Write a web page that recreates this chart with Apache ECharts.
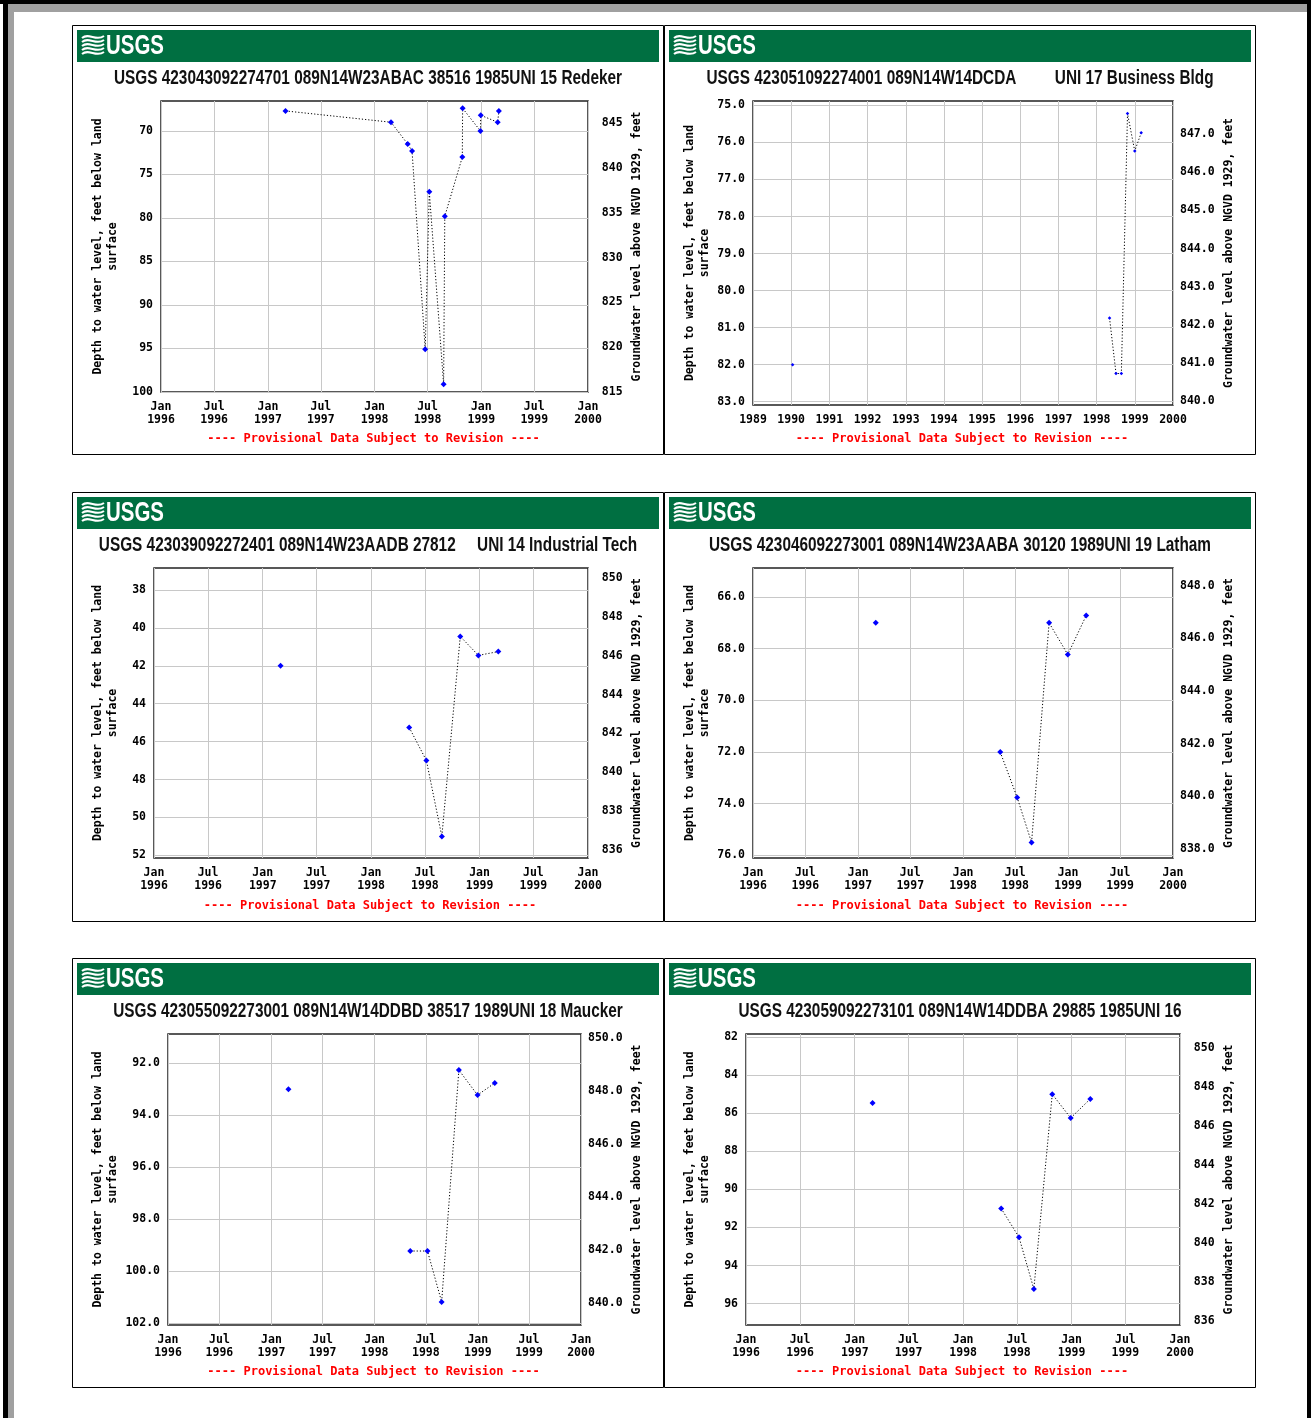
<!DOCTYPE html>
<html>
<head>
<meta charset="utf-8">
<script src="https://cdn.jsdelivr.net/npm/echarts@6/dist/echarts.min.js"></script>
<style>
html,body{margin:0;padding:0;background:#fff;}
#c{width:1311px;height:1418px;}
</style>
</head>
<body>
<div id="c"></div>
<script>
// ---------------- DATA ----------------
const halfYearTicks = ['1996-01-01','1996-07-01','1997-01-01','1997-07-01','1998-01-01','1998-07-01','1999-01-01','1999-07-01','2000-01-01'];
const halfYearLabels = ['Jan\n1996','Jul\n1996','Jan\n1997','Jul\n1997','Jan\n1998','Jul\n1998','Jan\n1999','Jul\n1999','Jan\n2000'];
const yearTicks = ['1989-01-01','1990-01-01','1991-01-01','1992-01-01','1993-01-01','1994-01-01','1995-01-01','1996-01-01','1997-01-01','1998-01-01','1999-01-01','2000-01-01'];
const yearLabels = ['1989','1990','1991','1992','1993','1994','1995','1996','1997','1998','1999','2000'];

const depthAxisName = 'Depth to water level, feet below land\nsurface';
const elevAxisName = 'Groundwater level above NGVD 1929, feet';
const provisionalText = '---- Provisional Data Subject to Revision ----';
const logoText = 'USGS';

// Panel 1
const p1Title = 'USGS 423043092274701 089N14W23ABAC 38516 1985UNI 15 Redeker';
const p1Dates = ['1997-03-02','1998-02-26','1998-04-24','1998-05-09','1998-06-23','1998-07-07','1998-08-25','1998-08-29','1998-10-28','1998-10-29','1998-12-29','1998-12-30','1999-02-26','1999-03-02'];
const p1Depths = [67.7, 69.0, 71.5, 72.3, 95.1, 77.0, 99.1, 79.8, 73.0, 67.4, 70.0, 68.2, 69.0, 67.7];
const p1Gaps = [];
const p1DepthTicks = [70, 75, 80, 85, 90, 95, 100];
const p1ElevTicks = [815, 820, 825, 830, 835, 840, 845];

// Panel 2
const p2Title = 'USGS 423051092274001 089N14W14DCDA         UNI 17 Business Bldg';
const p2Dates = ['1990-01-15','1998-05-04','1998-07-05','1998-08-25','1998-10-23','1998-12-31','1999-03-03'];
const p2Depths = [82.0, 80.74, 82.24, 82.24, 75.22, 76.23, 75.74];
const p2Gaps = [1];
const p2DepthTicks = [75, 76, 77, 78, 79, 80, 81, 82, 83];
const p2ElevTicks = [840, 841, 842, 843, 844, 845, 846, 847];

// Panel 3
const p3Title = 'USGS 423039092272401 089N14W23AADB 27812     UNI 14 Industrial Tech';
const p3Dates = ['1997-03-02','1998-05-09','1998-07-06','1998-08-27','1998-10-28','1998-12-28','1999-03-05'];
const p3Depths = [42.0, 45.25, 47.0, 51.0, 40.45, 41.45, 41.25];
const p3Gaps = [1];
const p3DepthTicks = [38, 40, 42, 44, 46, 48, 50, 52];
const p3ElevTicks = [836, 838, 840, 842, 844, 846, 848, 850];

// Panel 4
const p4Title = 'USGS 423046092273001 089N14W23AABA 30120 1989UNI 19 Latham';
const p4Dates = ['1997-03-03','1998-05-10','1998-07-08','1998-08-27','1998-10-27','1998-12-31','1999-03-05'];
const p4Depths = [67.0, 72.0, 73.76, 75.5, 67.0, 68.23, 66.72];
const p4Gaps = [1];
const p4DepthTicks = [66, 68, 70, 72, 74, 76];
const p4ElevTicks = [838, 840, 842, 844, 846, 848];

// Panel 5
const p5Title = 'USGS 423055092273001 089N14W14DDBD 38517 1989UNI 18 Maucker';
const p5Dates = ['1997-03-02','1998-05-07','1998-07-07','1998-08-26','1998-10-26','1998-12-31','1999-03-02'];
const p5Depths = [93.0, 99.23, 99.23, 101.19, 92.26, 93.22, 92.76];
const p5Gaps = [1];
const p5DepthTicks = [92, 94, 96, 98, 100, 102];
const p5ElevTicks = [840, 842, 844, 846, 848, 850];

// Panel 6
const p6Title = 'USGS 423059092273101 089N14W14DDBA 29885 1985UNI 16';
const p6Dates = ['1997-03-02','1998-05-09','1998-07-08','1998-08-27','1998-10-28','1998-12-29','1999-03-05'];
const p6Depths = [85.46, 91.0, 92.51, 95.23, 85.0, 86.25, 85.25];
const p6Gaps = [1];
const p6DepthTicks = [82, 84, 86, 88, 90, 92, 94, 96];
const p6ElevTicks = [836, 838, 840, 842, 844, 846, 848, 850];

// ---------------- LAYOUT / STYLE ----------------
const MONO = '"DejaVu Sans Mono", "Liberation Mono", monospace';
const SANS = '"Liberation Sans", Arial, sans-serif';
const TITLE_FONT = 'bold 20px ' + SANS;
const LOGO_FONT = 'bold 28px ' + SANS;
const ts = s => Date.parse(s + 'T00:00:00Z');

// condensed look: measure the regular bold face and squeeze it horizontally
const mctx = document.createElement('canvas').getContext('2d');
function textWidth(font, text) { mctx.font = font; return mctx.measureText(text).width; }
const titleScale = 508 / textWidth(TITLE_FONT, p1Title);
const logoScale = 58 / textWidth(LOGO_FONT, logoText);

const panels = [
  {title:p1Title, dates:p1Dates, depths:p1Depths, gaps:p1Gaps, xTicks:halfYearTicks, xLabels:halfYearLabels, xMin:'1996-01-01', xMax:'2000-01-01',
   dTicks:p1DepthTicks, eTicks:p1ElevTicks, dRange:[66.56,100], eRange:[815,847.5], dec:0, origin:[72,25], grid:[161,101,427,291], sym:6},
  {title:p2Title, dates:p2Dates, depths:p2Depths, gaps:p2Gaps, xTicks:yearTicks, xLabels:yearLabels, xMin:'1989-01-01', xMax:'2000-01-01',
   dTicks:p2DepthTicks, eTicks:p2ElevTicks, dRange:[74.88,83.09], eRange:[839.9,847.87], dec:1, origin:[664,25], grid:[753,101,420,304], sym:3.5},
  {title:p3Title, dates:p3Dates, depths:p3Depths, gaps:p3Gaps, xTicks:halfYearTicks, xLabels:halfYearLabels, xMin:'1996-01-01', xMax:'2000-01-01',
   dTicks:p3DepthTicks, eTicks:p3ElevTicks, dRange:[36.84,52.14], eRange:[835.57,850.53], dec:0, origin:[72,492], grid:[154,568,434,290], sym:6},
  {title:p4Title, dates:p4Dates, depths:p4Depths, gaps:p4Gaps, xTicks:halfYearTicks, xLabels:halfYearLabels, xMin:'1996-01-01', xMax:'2000-01-01',
   dTicks:p4DepthTicks, eTicks:p4ElevTicks, dRange:[64.88,76.1], eRange:[837.66,848.67], dec:1, origin:[664,492], grid:[753,568,420,290], sym:6},
  {title:p5Title, dates:p5Dates, depths:p5Depths, gaps:p5Gaps, xTicks:halfYearTicks, xLabels:halfYearLabels, xMin:'1996-01-01', xMax:'2000-01-01',
   dTicks:p5DepthTicks, eTicks:p5ElevTicks, dRange:[90.87,102.08], eRange:[839.17,850.14], dec:1, origin:[72,958], grid:[168,1034,413,291], sym:6},
  {title:p6Title, dates:p6Dates, depths:p6Depths, gaps:p6Gaps, xTicks:halfYearTicks, xLabels:halfYearLabels, xMin:'1996-01-01', xMax:'2000-01-01',
   dTicks:p6DepthTicks, eTicks:p6ElevTicks, dRange:[81.84,97.12], eRange:[835.78,850.74], dec:0, origin:[664,958], grid:[746,1034,434,291], sym:6}
];

function seriesData(dates, depths, gaps) {
  const out = [];
  dates.forEach((d, i) => {
    if (gaps.includes(i)) out.push([ts(dates[i - 1]), '-']);
    out.push([ts(d), depths[i]]);
  });
  return out;
}

const grids = [], xAxes = [], yAxes = [], series = [], graphics = [];

// page frame
graphics.push(
  {type:'rect', shape:{x:0,y:0,width:1311,height:4}, style:{fill:'#000'}, silent:true},
  {type:'rect', shape:{x:8,y:4,width:1299,height:8}, style:{fill:'#a0a0a0'}, silent:true},
  {type:'rect', shape:{x:3,y:0,width:5,height:1418}, style:{fill:'#000'}, silent:true},
  {type:'rect', shape:{x:8,y:4,width:6,height:1414}, style:{fill:'#a0a0a0'}, silent:true},
  {type:'rect', shape:{x:1307,y:0,width:4,height:1418}, style:{fill:'#000'}, silent:true}
);

panels.forEach((p, i) => {
  const [px, py] = p.origin;
  const [gl, gt, gw, gh] = p.grid;
  const fmt = v => Number(v).toFixed(p.dec);
  const xTickTs = p.xTicks.map(ts);

  graphics.push({type:'rect', shape:{x:px+0.5, y:py+0.5, width:591, height:429}, style:{fill:null, stroke:'#000', lineWidth:1}, silent:true});
  graphics.push({type:'rect', shape:{x:px+5, y:py+5, width:582, height:32}, style:{fill:'#006f41'}, silent:true});
  for (let k = 0; k < 5; k++) {
    graphics.push({type:'bezierCurve', shape:{x1:px+10, y1:py+13+4*k, x2:px+32, y2:py+11+4*k, cpx1:px+17, cpy1:py+7+4*k, cpx2:px+24, cpy2:py+17+4*k},
      style:{stroke:'#fff', lineWidth:2, fill:null}, silent:true});
  }
  graphics.push({type:'text', x:px+34, y:py+21.5, scaleX:logoScale, style:{text:logoText, fill:'#fff', font:LOGO_FONT, textAlign:'left', textVerticalAlign:'middle'}, silent:true});
  graphics.push({type:'text', x:px+296, y:py+53.5, scaleX:titleScale, style:{text:p.title, fill:'#111', font:TITLE_FONT, textAlign:'center', textVerticalAlign:'middle'}, silent:true});
  graphics.push({type:'text', x:gl+gw/2-1, y:py+414, style:{text:provisionalText, fill:'#ff0000', font:'bold 12px ' + MONO, textAlign:'center', textVerticalAlign:'middle'}, silent:true});

  grids.push({left:gl, top:gt, width:gw, height:gh, show:true, borderColor:'#222', borderWidth:1.5, backgroundColor:'#fff'});

  xAxes.push({
    type:'value', gridIndex:i, min:ts(p.xMin), max:ts(p.xMax),
    axisLine:{show:false}, axisTick:{show:false, customValues:xTickTs},
    axisLabel:{customValues:xTickTs, formatter:(v) => { const k = xTickTs.indexOf(+v); return k >= 0 ? p.xLabels[k] : ''; },
      fontFamily:MONO, fontWeight:'bold', fontSize:11.5, color:'#000', lineHeight:13, margin:9},
    splitLine:{show:true, lineStyle:{color:'#c8c8c8', width:1}}
  });

  const nameStyle = {fontFamily:MONO, fontWeight:'bold', fontSize:11.5, color:'#000', lineHeight:14.4, align:'center'};

  yAxes.push({
    type:'value', gridIndex:i, position:'left', inverse:true, min:p.dRange[0], max:p.dRange[1],
    axisLine:{show:false}, axisTick:{show:false, customValues:p.dTicks},
    axisLabel:{customValues:p.dTicks, formatter:fmt, fontFamily:MONO, fontWeight:'bold', fontSize:11.5, color:'#000', margin:8},
    splitLine:{show:true, lineStyle:{color:'#c8c8c8', width:1}},
    name:depthAxisName, nameLocation:'middle', nameRotate:90, nameGap:gl - (px + 48), nameTextStyle:nameStyle
  });
  yAxes.push({
    type:'value', gridIndex:i, position:'right', min:p.eRange[0], max:p.eRange[1],
    axisLine:{show:false}, axisTick:{show:false, customValues:p.eTicks},
    axisLabel:{customValues:p.eTicks, formatter:fmt, fontFamily:MONO, fontWeight:'bold', fontSize:11.5, color:'#000', margin:(px + 550.6) - (gl + gw), align:'right'},
    splitLine:{show:false},
    name:elevAxisName, nameLocation:'middle', nameRotate:90, nameGap:(px + 557.4) - (gl + gw), nameTextStyle:nameStyle
  });

  series.push({
    type:'line', xAxisIndex:i, yAxisIndex:2*i, data:seriesData(p.dates, p.depths, p.gaps),
    symbol:'diamond', symbolSize:p.sym, showSymbol:true, connectNulls:false,
    itemStyle:{color:'#0000ff', borderWidth:0},
    lineStyle:{color:'#000', width:1, type:[1.2, 2]},
    silent:true, animation:false, z:3
  });
});

const chart = echarts.init(document.getElementById('c'), null, {renderer:'canvas', width:1311, height:1418});
chart.setOption({
  animation:false,
  backgroundColor:'#fff',
  grid:grids, xAxis:xAxes, yAxis:yAxes, series:series,
  graphic:{elements:graphics}
});
</script>
</body>
</html>
